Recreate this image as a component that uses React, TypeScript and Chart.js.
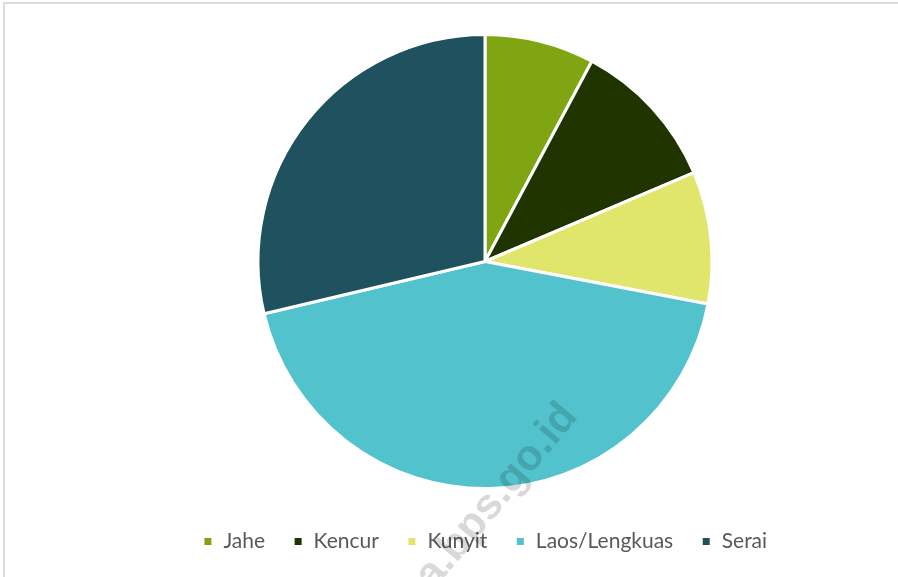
import React, { useEffect, useRef } from "react";
import { Chart, registerables } from "chart.js";

Chart.register(...registerables);

const categories = ["Jahe", "Kencur", "Kunyit", "Laos/Lengkuas", "Serai"];
const values = [7.8, 10.8, 9.4, 43.3, 28.7];
const colors = ["#7FA612", "#203400", "#DFE66B", "#52C2CC", "#1F525E"];
const watermarkText = "a.bps.go.id";

const watermarkPlugin = {
  id: "watermark",
  afterDraw(chart: any) {
    const ctx = chart.ctx;
    ctx.save();
    ctx.translate(579, 417);
    ctx.rotate(-50 * Math.PI / 180);
    ctx.font = "bold 43px 'Liberation Sans', Arial, sans-serif";
    ctx.fillStyle = "rgba(0,0,0,0.15)";
    ctx.textAlign = "right";
    ctx.textBaseline = "alphabetic";
    ctx.fillText(watermarkText, 0, 0);
    ctx.restore();
  },
};

export default function App() {
  const ref = useRef<HTMLCanvasElement>(null);
  useEffect(() => {
    document.body.style.margin = "0";
    const chart = new Chart(ref.current!, {
      type: "pie",
      data: {
        labels: categories,
        datasets: [
          {
            data: values,
            backgroundColor: colors,
            borderColor: "#ffffff",
            borderWidth: 3,
          },
        ],
      },
      options: {
        animation: false,
        responsive: false,
        maintainAspectRatio: false,
        layout: { padding: { top: 33, left: 72, right: 0, bottom: 15 } },
        plugins: {
          tooltip: { enabled: false },
          legend: {
            position: "bottom",
            title: { display: true, text: "", font: { size: 10 }, padding: { top: 0, bottom: 1 } },
            labels: {
              boxWidth: 10,
              boxHeight: 10,
              padding: 28,
              color: "#595959",
              font: { family: "Lato, 'Open Sans', sans-serif", size: 21 },
            },
          },
        },
      },
      plugins: [watermarkPlugin],
    });
    return () => chart.destroy();
  }, []);
  return (
    <div style={{ position: "relative", width: 898, height: 577, background: "#fff", overflow: "hidden" }}>
      <div
        style={{
          position: "absolute",
          left: 3,
          top: 2,
          width: 920,
          height: 600,
          borderTop: "2px solid #dcdcdc",
          borderLeft: "2px solid #dcdcdc",
          boxSizing: "border-box",
        }}
      />
      <canvas ref={ref} width={898} height={577} style={{ position: "absolute", left: 0, top: 0 }} />
    </div>
  );
}
